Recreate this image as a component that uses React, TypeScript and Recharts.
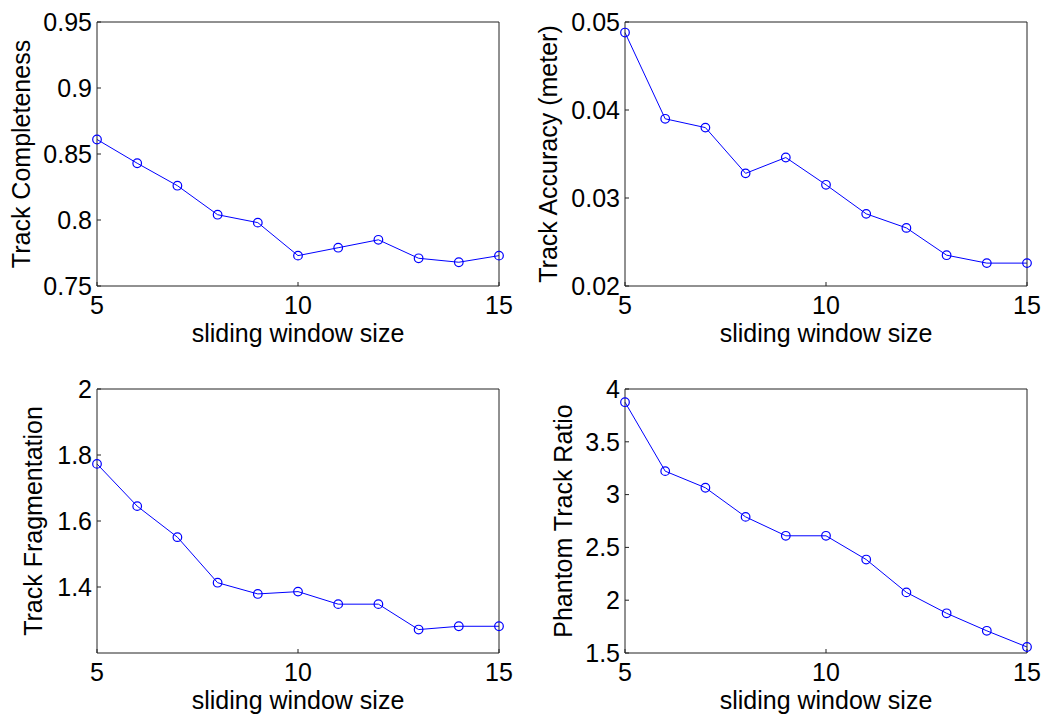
import { LineChart, Line, XAxis, YAxis, Label } from "recharts";

const windowSizes = [5, 6, 7, 8, 9, 10, 11, 12, 13, 14, 15];
const completeness = [0.861, 0.843, 0.826, 0.804, 0.798, 0.773, 0.779, 0.785, 0.771, 0.768, 0.773];
const accuracy = [0.0488, 0.039, 0.038, 0.0328, 0.0346, 0.0315, 0.0282, 0.0266, 0.0235, 0.0226, 0.0226];
const fragmentation = [1.773, 1.645, 1.551, 1.413, 1.379, 1.386, 1.348, 1.348, 1.271, 1.281, 1.281];
const phantomRatio = [3.875, 3.222, 3.065, 2.789, 2.61, 2.61, 2.385, 2.074, 1.876, 1.71, 1.557];

const xTicks = [5, 10, 15];
const completenessTicks = [0.75, 0.8, 0.85, 0.9, 0.95];
const accuracyTicks = [0.02, 0.03, 0.04, 0.05];
const fragmentationTicks = [1.4, 1.6, 1.8, 2];
const phantomTicks = [1.5, 2, 2.5, 3, 3.5, 4];

const FONT = "'Liberation Sans', Arial, sans-serif";
const FS = 25;
const tickStyle = { fontSize: FS, fill: "#000", fontFamily: FONT };
const axisColor = "#222";

type PanelProps = {
  left: number;
  top: number;
  values: number[];
  domain: [number, number];
  yTicks: number[];
  yLabel: string;
  labelOffset: number;
  fmt: (v: number) => string;
};

function Panel({ left, top, values, domain, yTicks, yLabel, labelOffset, fmt }: PanelProps) {
  const data = windowSizes.map((w, i) => ({ w, v: values[i] }));
  return (
    <div style={{ position: "absolute", left, top }}>
      <LineChart width={522} height={360} data={data} margin={{ top: 21, right: 22, left: 0, bottom: 0 }}>
        <XAxis
          dataKey="w"
          type="number"
          domain={[5, 15]}
          ticks={xTicks}
          height={74}
          tickSize={-4}
          tickMargin={14}
          tick={tickStyle}
          stroke={axisColor}
          tickLine={{ stroke: axisColor }}
        >
          <Label value="sliding window size" position="insideBottom" offset={18} style={{ fontSize: FS, fill: "#000", fontFamily: FONT }} />
        </XAxis>
        <XAxis
          xAxisId="top"
          orientation="top"
          dataKey="w"
          type="number"
          domain={[5, 15]}
          ticks={xTicks}
          height={1}
          tickSize={-4}
          tick={false}
          stroke={axisColor}
          tickLine={{ stroke: axisColor }}
        />
        <YAxis
          type="number"
          domain={domain}
          ticks={yTicks}
          width={97}
          tickSize={-4}
          tickMargin={9}
          tick={tickStyle}
          tickFormatter={fmt}
          stroke={axisColor}
          tickLine={{ stroke: axisColor }}
          allowDataOverflow
        >
          <Label
            value={yLabel}
            angle={-90}
            position="insideLeft"
            offset={labelOffset}
            style={{ fontSize: FS, fill: "#000", fontFamily: FONT, textAnchor: "middle" }}
          />
        </YAxis>
        <YAxis
          yAxisId="right"
          orientation="right"
          type="number"
          domain={domain}
          ticks={yTicks}
          width={1}
          tickSize={-4}
          tick={false}
          stroke={axisColor}
          tickLine={{ stroke: axisColor }}
          allowDataOverflow
        />
        <Line
          type="linear"
          dataKey="v"
          stroke="#0000ff"
          strokeWidth={1}
          dot={{ r: 4.3, stroke: "#0000ff", strokeWidth: 1.2, fill: "none" }}
          isAnimationActive={false}
        />
      </LineChart>
    </div>
  );
}

export default function App() {
  return (
    <div style={{ position: "absolute", left: 0, top: 0, width: 1044, height: 715, background: "#fff", fontFamily: FONT }}>
      <Panel left={0} top={0} values={completeness} domain={[0.75, 0.95]} yTicks={completenessTicks} yLabel="Track Completeness" labelOffset={21} fmt={(v) => String(v)} />
      <Panel left={528} top={0} values={accuracy} domain={[0.02, 0.05]} yTicks={accuracyTicks} yLabel="Track Accuracy (meter)" labelOffset={20} fmt={(v) => v.toFixed(2)} />
      <Panel left={0} top={367} values={fragmentation} domain={[1.2, 2]} yTicks={fragmentationTicks} yLabel="Track Fragmentation" labelOffset={33} fmt={(v) => String(v)} />
      <Panel left={528} top={367} values={phantomRatio} domain={[1.5, 4]} yTicks={phantomTicks} yLabel="Phantom Track Ratio" labelOffset={35} fmt={(v) => String(v)} />
    </div>
  );
}
